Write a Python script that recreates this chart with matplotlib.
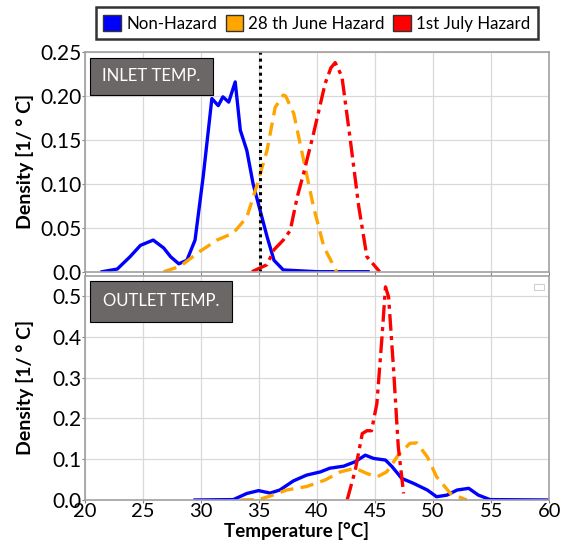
import matplotlib
matplotlib.use("Agg")
import matplotlib.pyplot as plt
from matplotlib.patches import Patch, Rectangle

plt.rcParams['font.family'] = ['Lato', 'DejaVu Sans']

# ---- data ----
series_names = ["Non-Hazard", "28 th June Hazard", "1st July Hazard"]
series_colors = ["#0000ff", "#ffa500", "#ff0000"]

inlet_nonhaz_x = [21.5, 22.8, 23.9, 24.8, 25.9, 26.8, 27.4, 28.1, 28.8, 29.5, 30.2, 30.95,
                  31.5, 31.9, 32.4, 32.96, 33.4, 33.96, 34.5, 35.1, 35.7, 36.3, 37.1, 40.0, 44.4]
inlet_nonhaz_y = [0.0, 0.003, 0.017, 0.030, 0.036, 0.027, 0.017, 0.009, 0.013, 0.036, 0.108, 0.197,
                  0.189, 0.199, 0.193, 0.216, 0.161, 0.138, 0.100, 0.070, 0.040, 0.013, 0.002, 0.0, 0.0]

inlet_june_x = [26.8, 28.2, 29.9, 31.4, 32.8, 33.96, 34.8, 35.7, 36.4, 37.1, 37.3, 38.0,
                38.85, 39.7, 40.6, 41.7]
inlet_june_y = [0.0, 0.006, 0.023, 0.036, 0.044, 0.062, 0.097, 0.138, 0.187, 0.201, 0.200, 0.180,
                0.127, 0.074, 0.028, 0.0]

inlet_july_x = [34.4, 35.7, 36.3, 37.1, 37.7, 38.3, 38.85, 39.7, 40.7, 41.2, 41.57, 42.15,
                42.87, 43.6, 44.3, 45.4]
inlet_july_y = [0.0, 0.008, 0.025, 0.036, 0.047, 0.085, 0.112, 0.157, 0.214, 0.232, 0.238, 0.222,
                0.150, 0.074, 0.017, 0.0]

inlet_threshold = 35.1

outlet_nonhaz_x = [29.5, 32.8, 33.96, 34.97, 35.97, 36.8, 37.98, 39.1, 40.3, 41.1, 42.3, 43.3,
                   44.16, 44.88, 45.9, 46.46, 47.3, 48.3, 49.5, 50.3, 51.2, 52.07, 53.07, 53.9,
                   54.9, 60.0]
outlet_nonhaz_y = [0.0, 0.001, 0.016, 0.023, 0.017, 0.0245, 0.047, 0.061, 0.069, 0.078, 0.083, 0.094,
                   0.110, 0.102, 0.098, 0.082, 0.053, 0.041, 0.0245, 0.008, 0.012, 0.0245, 0.0286, 0.012,
                   0.001, 0.0]

outlet_june_x = [33.4, 34.97, 36.0, 37.4, 39.1, 40.7, 42.0, 43.3, 44.3, 45.2, 46.0, 47.0,
                 48.0, 48.6, 49.5, 50.3, 51.5, 52.9]
outlet_june_y = [0.0, 0.001, 0.010, 0.0245, 0.033, 0.049, 0.069, 0.078, 0.065, 0.057, 0.069, 0.110,
                 0.139, 0.140, 0.106, 0.057, 0.016, 0.0]

outlet_july_x = [42.6, 43.3, 43.9, 44.3, 44.7, 45.16, 45.6, 45.9, 46.17, 46.6, 47.0, 47.46]
outlet_july_y = [0.0, 0.0735, 0.163, 0.170, 0.170, 0.237, 0.400, 0.523, 0.498, 0.319, 0.131, 0.016]

x_ticks = [20, 25, 30, 35, 40, 45, 50, 55, 60]
top_yticks = [0.0, 0.05, 0.10, 0.15, 0.20, 0.25]
top_yticklabels = ["0.0", "0.05", "0.10", "0.15", "0.20", "0.25"]
bot_yticks = [0.0, 0.1, 0.2, 0.3, 0.4, 0.5]
bot_yticklabels = ["0.0", "0.1", "0.2", "0.3", "0.4", "0.5"]

# ---- figure ----
fig = plt.figure(figsize=(5.61, 5.42), dpi=100)
ax1 = fig.add_axes([0.151, 0.4987, 0.828, 0.4053])
ax2 = fig.add_axes([0.151, 0.0775, 0.828, 0.4135])

styles = [dict(ls='-', lw=2.4), dict(ls=(0, (4, 2.2)), lw=2.4), dict(ls=(0, (5, 1.6, 1.2, 1.6)), lw=2.4)]

ax1.plot(inlet_nonhaz_x, inlet_nonhaz_y, color=series_colors[0], **styles[0])
ax1.plot(inlet_june_x, inlet_june_y, color=series_colors[1], **styles[1])
ax1.plot(inlet_july_x, inlet_july_y, color=series_colors[2], **styles[2])
ax1.axvline(inlet_threshold, color='black', ls=(0, (1, 1.3)), lw=2.2)

ax2.plot(outlet_nonhaz_x, outlet_nonhaz_y, color=series_colors[0], **styles[0])
ax2.plot(outlet_june_x, outlet_june_y, color=series_colors[1], **styles[1])
ax2.plot(outlet_july_x, outlet_july_y, color=series_colors[2], **styles[2])

for ax in (ax1, ax2):
    ax.set_xlim(20, 60)
    ax.set_xticks(x_ticks)
    ax.grid(True, color='#d9d9d9', lw=0.9)
    ax.set_axisbelow(True)
    for s in ax.spines.values():
        s.set_color('#a0a0a0')
        s.set_linewidth(1.2)
    ax.tick_params(axis='y', length=2, width=0.8, color='#808080', labelsize=15, pad=0.5)
    ax.tick_params(axis='x', length=2, width=0.8, color='#808080', labelsize=14.5, pad=0)
    ax.set_ylabel("Density [1/ ° C]", fontsize=14, fontweight='bold')
    ax.yaxis.set_label_coords(-0.11, 0.5)

ax1.set_ylim(0, 0.25)
ax1.set_yticks(top_yticks)
ax1.set_yticklabels(top_yticklabels)
ax1.tick_params(axis='x', labelbottom=False)

ax2.set_ylim(0, 0.55)
ax2.set_yticks(bot_yticks)
ax2.set_yticklabels(bot_yticklabels)
fig.text(296 / 561, 5 / 542, "Temperature [°C]", fontsize=13.5, fontweight='bold',
         ha='center', va='baseline')

# label boxes
def label_box(ax, text, x0, y0, w, h):
    ax.add_patch(Rectangle((x0, y0), w, h, transform=ax.transAxes, facecolor='#6b6767',
                           edgecolor='black', lw=0.8, zorder=5))
    ax.text(x0 + w / 2, y0 + h / 2, text, transform=ax.transAxes, color='white',
            fontsize=12, ha='center', va='center', zorder=6)

label_box(ax1, "INLET TEMP.", 0.0115, 0.805, 0.265, 0.168)
label_box(ax2, "OUTLET TEMP.", 0.0115, 0.795, 0.306, 0.183)

# empty legend remnant in lower panel
ax2.add_patch(Rectangle((0.968, 0.935), 0.02, 0.03, transform=ax2.transAxes, facecolor='white',
                        edgecolor='#d0d0d0', lw=0.8, zorder=5))

# legend at top
handles = [Patch(facecolor=c, edgecolor='#333333', lw=1.0) for c in series_colors]
leg = fig.legend(handles, series_names, loc='center', bbox_to_anchor=(0.565, 0.957), ncol=3,
                 frameon=True, fancybox=False, fontsize=12.2, handlelength=1.05, handleheight=1.05,
                 handletextpad=0.3, columnspacing=0.5, borderpad=0.45, borderaxespad=0)
leg.get_frame().set_edgecolor('black')
leg.get_frame().set_linewidth(1.8)

fig.savefig("out.png", dpi=100)
